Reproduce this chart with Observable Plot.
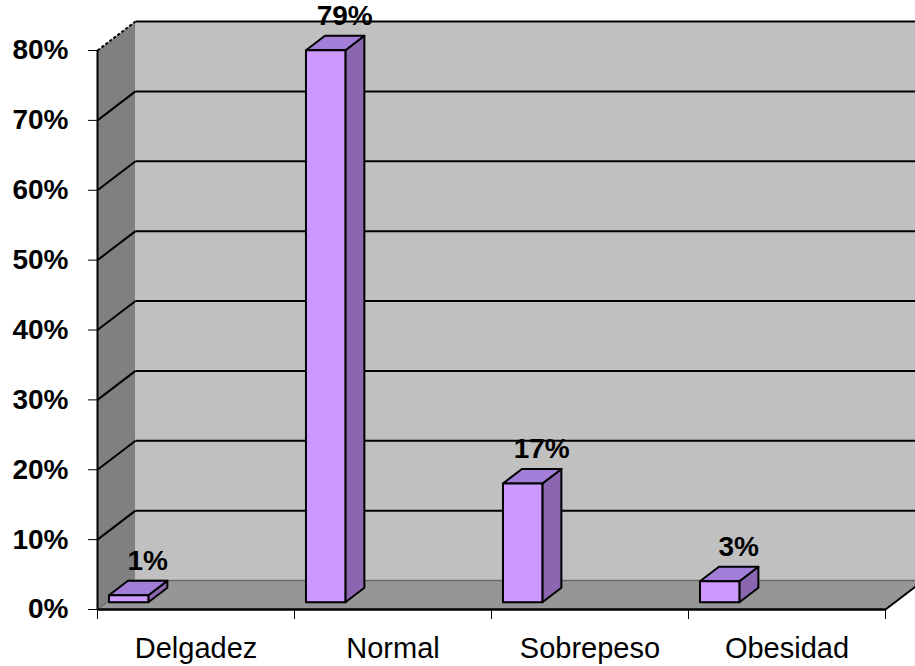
<!DOCTYPE html>
<html>
<head>
<meta charset="utf-8">
<script src="https://cdn.jsdelivr.net/npm/d3@7"></script>
<script src="https://cdn.jsdelivr.net/npm/@observablehq/plot@0.6"></script>
<style>
  html, body { margin: 0; padding: 0; background: #ffffff; }
  #chart { width: 915px; height: 666px; overflow: hidden; }
</style>
</head>
<body>
<div id="chart"></div>
<script>
// Estado nutricional: porcentaje por categoría
const categories = ["Delgadez", "Normal", "Sobrepeso", "Obesidad"];
const values = [0.01, 0.79, 0.17, 0.03];
const valueLabels = ["1%", "79%", "17%", "3%"];
const yTicks = [0, 0.1, 0.2, 0.3, 0.4, 0.5, 0.6, 0.7, 0.8];

// Plot frame (front plane of the 3D box)
const W = 915, H = 666;
const mL = 97, mR = 30, mT = 50, mB = 57;
const xMax = categories.length, yMax = 0.8;

// Oblique depth: one unit of depth moves 38px right and 29px up
const pxPerX = (W - mL - mR) / xMax;
const pxPerY = (H - mT - mB) / yMax;
const dX = 38 / pxPerX;
const dY = 29 / pxPerY;
const P = (x, y, z) => ({x: x + z * dX, y: y + z * dY});

// Polygon helper: list of 3D corners -> rows for a closed line
function poly(id, pts) {
  return pts.map(([x, y, z]) => ({id, ...P(x, y, z)}));
}

// Walls and floor
const sideWall = poly("side", [[0, 0, 0], [0, 0, 1], [0, yMax, 1], [0, yMax, 0]]);
const backWall = poly("back", [[0, 0, 1], [xMax, 0, 1], [xMax, yMax, 1], [0, yMax, 1]]);
const floor = poly("floor", [[0, 0, 0], [xMax, 0, 0], [xMax, 0, 1], [0, 0, 1]]);

// Gridlines: horizontal on the back wall, diagonal on the side wall
const backGrid = yTicks.map(v => {
  const a = P(0, v, 1), b = P(xMax, v, 1);
  return {v, x1: a.x, y1: a.y, x2: b.x, y2: b.y};
});
const sideGrid = yTicks.map(v => {
  const a = P(0, v, 0), b = P(0, v, 1);
  return {v, x1: a.x, y1: a.y, x2: b.x, y2: b.y};
});
const floorRight = [{a: P(xMax, 0, 0), b: P(xMax, 0, 1)}];

// Bars as 3D boxes
const barOffset = 0.01, barWidth = 0.2, z0 = 0.25, z1 = 0.75;
const fronts = [], sides = [], tops = [], labels = [];
values.forEach((v, i) => {
  const x0 = i + barOffset, x1 = x0 + barWidth;
  fronts.push(...poly("f" + i, [[x0, 0, z0], [x1, 0, z0], [x1, v, z0], [x0, v, z0]]));
  sides.push(...poly("s" + i, [[x1, 0, z0], [x1, 0, z1], [x1, v, z1], [x1, v, z0]]));
  tops.push(...poly("t" + i, [[x0, v, z0], [x1, v, z0], [x1, v, z1], [x0, v, z1]]));
  labels.push({...P(x0 + barWidth / 2, v, z1), text: valueLabels[i]});
});

const catLabels = categories.map((c, i) => ({x: i + 0.5, y: 0, text: c}));
const catTicks = d3.range(categories.length + 1);

const face = (data, fill, extra = {}) =>
  Plot.line(data, {x: "x", y: "y", z: "id", curve: "linear-closed", fill, stroke: "none", ...extra});

const chart = Plot.plot({
  width: W,
  height: H,
  marginLeft: mL, marginRight: mR, marginTop: mT, marginBottom: mB,
  x: {domain: [0, xMax], axis: null},
  y: {domain: [0, yMax], axis: null},
  style: {fontFamily: "'Liberation Sans', Arial, sans-serif", background: "#ffffff", overflow: "hidden"},
  marks: [
    face(sideWall, "#808080"),
    face(backWall, "#c0c0c0"),
    face(floor, "#969696"),
    // gridlines
    Plot.link(backGrid.filter(d => d.v > 0), {x1: "x1", y1: "y1", x2: "x2", y2: "y2", stroke: "#000", strokeWidth: 2}),
    Plot.link(backGrid.filter(d => d.v === 0), {x1: "x1", y1: "y1", x2: "x2", y2: "y2", stroke: "#6a6a6a", strokeWidth: 1.5}),
    Plot.link(sideGrid.filter(d => d.v > 0 && d.v < yMax), {x1: "x1", y1: "y1", x2: "x2", y2: "y2", stroke: "#000", strokeWidth: 2}),
    Plot.link(sideGrid.filter(d => d.v === yMax), {x1: "x1", y1: "y1", x2: "x2", y2: "y2", stroke: "#000", strokeWidth: 2, strokeDasharray: "3,2"}),
    Plot.link(sideGrid.filter(d => d.v === 0), {x1: "x1", y1: "y1", x2: "x2", y2: "y2", stroke: "#555", strokeWidth: 1}),
    // value axis line and floor edges
    Plot.ruleX([0], {y1: 0, y2: yMax, stroke: "#000", strokeWidth: 2}),
    Plot.ruleY([0], {x1: 0, x2: xMax, stroke: "#000", strokeWidth: 2.5}),
    Plot.link(floorRight, {x1: d => d.a.x, y1: d => d.a.y, x2: d => d.b.x, y2: d => d.b.y, stroke: "#000", strokeWidth: 2}),
    // axes
    Plot.axisY(yTicks, {tickFormat: d3.format(".0%"), tickSize: 9, tickPadding: 20, fontSize: 28, fontWeight: "bold", stroke: "#000", fill: "#000", label: null}),
    Plot.axisX(catTicks, {tickFormat: () => "", tickSize: 10, stroke: "#000", label: null}),
    Plot.text(catLabels, {x: "x", y: "y", text: "text", dy: 39, fontSize: 29, fill: "#000"}),
    // bars
    face(sides, "#8a67b0", {stroke: "#000", strokeWidth: 2, strokeLinejoin: "round"}),
    face(tops, "#a27ed8", {stroke: "#000", strokeWidth: 2, strokeLinejoin: "round"}),
    face(fronts, "#cc99ff", {stroke: "#000", strokeWidth: 2, strokeLinejoin: "round"}),
    // value labels
    Plot.text(labels, {x: "x", y: "y", text: "text", dy: -20, fontSize: 28, fontWeight: "bold", fill: "#000"})
  ]
});

document.getElementById("chart").appendChild(chart);
</script>
</body>
</html>
